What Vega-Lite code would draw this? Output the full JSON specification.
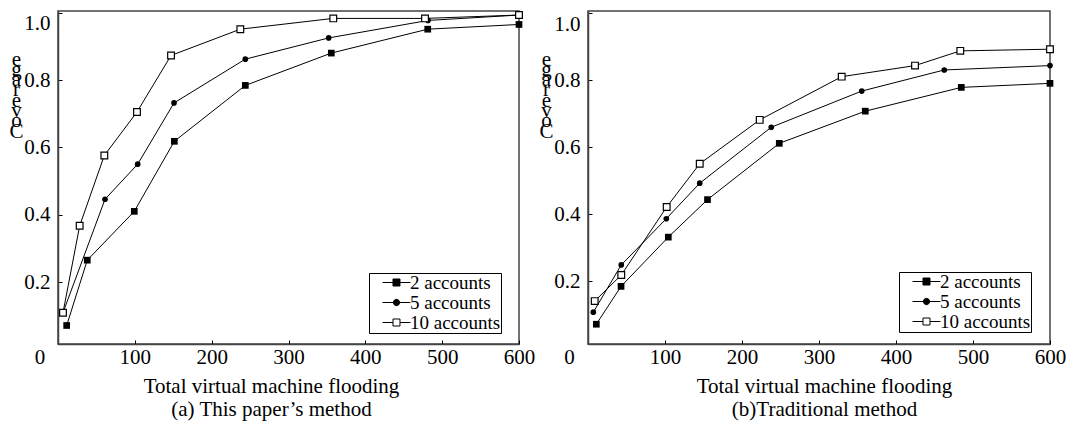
{
  "$schema": "https://vega.github.io/schema/vega-lite/v6.json",
  "padding": {"left": 8, "top": 8, "right": 0, "bottom": 0},
  "background": "white",
  "bounds": "flush",
  "spacing": 69,
  "resolve": {
    "scale": {"shape": "independent", "fill": "independent", "stroke": "independent"},
    "legend": {"shape": "independent", "fill": "independent", "stroke": "independent"}
  },
  "config": {
    "font": "Liberation Serif",
    "view": {"stroke": "#444", "strokeWidth": 1.5},
    "axis": {
      "grid": false,
      "labelFont": "Liberation Serif",
      "labelFontSize": 21,
      "labelColor": "black",
      "titleFont": "Liberation Serif",
      "titleFontSize": 21,
      "titleFontWeight": "normal",
      "titleColor": "black",
      "domainColor": "#444",
      "domainWidth": 1.5,
      "tickColor": "black",
      "tickSize": -4,
      "tickWidth": 1
    },
    "legend": {
      "orient": "none", "title": null,
      "padding": 0, "rowPadding": 0, "symbolSize": 196, "labelOffset": 22,
      "labelFont": "Liberation Serif", "labelFontSize": 19, "labelColor": "black",
      "strokeColor": "black", "fillColor": "white", "symbolStrokeColor": "black", "symbolStrokeWidth": 1, "symbolOpacity": 1
    }
  },
  "datasets": {
    "a": [
      {"series": "2 accounts", "x": 11.3, "y": 0.071},
      {"series": "2 accounts", "x": 38.1, "y": 0.265},
      {"series": "2 accounts", "x": 99.3, "y": 0.41},
      {"series": "2 accounts", "x": 151.4, "y": 0.618},
      {"series": "2 accounts", "x": 243.8, "y": 0.784},
      {"series": "2 accounts", "x": 355.7, "y": 0.88},
      {"series": "2 accounts", "x": 481.2, "y": 0.951},
      {"series": "2 accounts", "x": 600, "y": 0.965},
      {"series": "5 accounts", "x": 6.5, "y": 0.109},
      {"series": "5 accounts", "x": 61.2, "y": 0.446},
      {"series": "5 accounts", "x": 103.7, "y": 0.55},
      {"series": "5 accounts", "x": 151, "y": 0.732},
      {"series": "5 accounts", "x": 243.8, "y": 0.862},
      {"series": "5 accounts", "x": 352.3, "y": 0.925},
      {"series": "5 accounts", "x": 481.6, "y": 0.977},
      {"series": "5 accounts", "x": 600, "y": 0.993},
      {"series": "10 accounts", "x": 6.5, "y": 0.109},
      {"series": "10 accounts", "x": 28.2, "y": 0.367},
      {"series": "10 accounts", "x": 60.3, "y": 0.576},
      {"series": "10 accounts", "x": 102.8, "y": 0.705},
      {"series": "10 accounts", "x": 147.1, "y": 0.873},
      {"series": "10 accounts", "x": 237.3, "y": 0.951},
      {"series": "10 accounts", "x": 358.3, "y": 0.983},
      {"series": "10 accounts", "x": 477.7, "y": 0.983},
      {"series": "10 accounts", "x": 600, "y": 0.993}
    ],
    "b": [
      {"series": "2 accounts", "x": 10.8, "y": 0.071},
      {"series": "2 accounts", "x": 42.9, "y": 0.184},
      {"series": "2 accounts", "x": 104.3, "y": 0.331},
      {"series": "2 accounts", "x": 155.2, "y": 0.443},
      {"series": "2 accounts", "x": 248.4, "y": 0.611},
      {"series": "2 accounts", "x": 360.1, "y": 0.707},
      {"series": "2 accounts", "x": 484.8, "y": 0.778},
      {"series": "2 accounts", "x": 600, "y": 0.79},
      {"series": "5 accounts", "x": 6.9, "y": 0.107},
      {"series": "5 accounts", "x": 43.2, "y": 0.248},
      {"series": "5 accounts", "x": 101.7, "y": 0.386},
      {"series": "5 accounts", "x": 145.1, "y": 0.492},
      {"series": "5 accounts", "x": 238, "y": 0.659},
      {"series": "5 accounts", "x": 355.5, "y": 0.767},
      {"series": "5 accounts", "x": 462.7, "y": 0.83},
      {"series": "5 accounts", "x": 600, "y": 0.843},
      {"series": "10 accounts", "x": 8.7, "y": 0.14},
      {"series": "10 accounts", "x": 43.2, "y": 0.218},
      {"series": "10 accounts", "x": 102.2, "y": 0.421},
      {"series": "10 accounts", "x": 145.1, "y": 0.55},
      {"series": "10 accounts", "x": 223, "y": 0.681},
      {"series": "10 accounts", "x": 329.5, "y": 0.81},
      {"series": "10 accounts", "x": 424.7, "y": 0.843},
      {"series": "10 accounts", "x": 483.5, "y": 0.887},
      {"series": "10 accounts", "x": 600, "y": 0.892}
    ]
  },
  "hconcat": [
    {
      "width": 461,
      "height": 333,
      "data": {"name": "a"},
      "encoding": {
        "x": {
          "field": "x", "type": "quantitative",
          "scale": {"domain": [0, 600], "nice": false, "zero": false},
          "axis": {
            "values": [0, 100, 200, 300, 400, 500, 600],
            "labelFlush": false,
            "labelPadding": 6,
            "labelOffset": {"condition": {"test": "datum.value === 0", "value": -18.5}, "value": 0},
            "title": ["Total virtual machine flooding", "(a) This paper’s method"],
            "titleX": 213, "titleY": 48.7, "titleAlign": "center", "titleBaseline": "alphabetic",
            "titleLineHeight": 22.6
          }
        },
        "y": {
          "field": "y", "type": "quantitative",
          "scale": {"domain": [0.016, 1.005], "nice": false, "zero": false},
          "axis": {
            "values": [0.2, 0.4, 0.6, 0.8, 1.0],
            "format": ".1f",
            "labelFlush": 3,
            "labelPadding": 12,
            "title": ["e", "g", "a", "r", "e", "v", "o", "C"],
            "titleAngle": 0, "titleX": -42, "titleY": 54, "titleAlign": "center", "titleBaseline": "alphabetic",
            "titleLineHeight": 10.3
          }
        }
      },
      "layer": [
        {
          "mark": {"type": "line", "color": "black", "strokeWidth": 1},
          "encoding": {"detail": {"field": "series"}}
        },
        {
          "transform": [{"filter": "datum.series === '2 accounts'"}],
          "mark": {"type": "point", "shape": "square", "filled": true, "color": "black", "opacity": 1, "size": 45}
        },
        {
          "transform": [{"filter": "datum.series === '5 accounts'"}],
          "mark": {"type": "point", "shape": "circle", "filled": true, "color": "black", "opacity": 1, "size": 32}
        },
        {
          "transform": [{"filter": "datum.series === '10 accounts'"}],
          "mark": {"type": "point", "shape": "square", "fill": "white", "stroke": "black", "strokeWidth": 1.2, "opacity": 1, "size": 45}
        },
        {
          "mark": {"type": "point", "opacity": 0},
          "encoding": {
            "shape": {
              "field": "series", "type": "nominal",
              "scale": {"domain": ["2 accounts", "5 accounts", "10 accounts"], "range": ["M0.57,0H4.57M2.07,-0.5H3.07V0.5H2.07Z", "M0.57,0H4.57M2.12,0A0.45,0.45 0 1,1 3.02,0A0.45,0.45 0 1,1 2.12,0Z", "M0.57,0H2.07M3.07,0H4.57M2.07,-0.5H3.07V0.5H2.07Z"]},
              "legend": {"legendX": 311, "legendY": 262, "symbolOpacity": 1}
            },
            "fill": {
              "field": "series", "type": "nominal",
              "scale": {"domain": ["2 accounts", "5 accounts", "10 accounts"], "range": ["black", "black", "white"]},
              "legend": {"legendX": 311, "legendY": 262, "symbolOpacity": 1}
            },
            "stroke": {
              "field": "series", "type": "nominal",
              "scale": {"domain": ["2 accounts", "5 accounts", "10 accounts"], "range": ["black", "black", "black"]},
              "legend": {"legendX": 311, "legendY": 262, "symbolOpacity": 1}
            }
          }
        }
      ]
    },
    {
      "width": 462,
      "height": 333,
      "data": {"name": "b"},
      "encoding": {
        "x": {
          "field": "x", "type": "quantitative",
          "scale": {"domain": [0, 600], "nice": false, "zero": false},
          "axis": {
            "values": [0, 100, 200, 300, 400, 500, 600],
            "labelFlush": false,
            "labelPadding": 6,
            "labelOffset": {"condition": {"test": "datum.value === 0", "value": -19}, "value": 0},
            "title": ["Total virtual machine flooding", "(b)Traditional method"],
            "titleX": 236, "titleY": 48.7, "titleAlign": "center", "titleBaseline": "alphabetic",
            "titleLineHeight": 22.6
          }
        },
        "y": {
          "field": "y", "type": "quantitative",
          "scale": {"domain": [0.012, 1.006], "nice": false, "zero": false},
          "axis": {
            "values": [0.2, 0.4, 0.6, 0.8, 1.0],
            "format": ".1f",
            "labelFlush": 3,
            "labelPadding": 12,
            "title": ["e", "g", "a", "r", "e", "v", "o", "C"],
            "titleAngle": 0, "titleX": -42, "titleY": 54, "titleAlign": "center", "titleBaseline": "alphabetic",
            "titleLineHeight": 10.3
          }
        }
      },
      "layer": [
        {
          "mark": {"type": "line", "color": "black", "strokeWidth": 1},
          "encoding": {"detail": {"field": "series"}}
        },
        {
          "transform": [{"filter": "datum.series === '2 accounts'"}],
          "mark": {"type": "point", "shape": "square", "filled": true, "color": "black", "opacity": 1, "size": 45}
        },
        {
          "transform": [{"filter": "datum.series === '5 accounts'"}],
          "mark": {"type": "point", "shape": "circle", "filled": true, "color": "black", "opacity": 1, "size": 32}
        },
        {
          "transform": [{"filter": "datum.series === '10 accounts'"}],
          "mark": {"type": "point", "shape": "square", "fill": "white", "stroke": "black", "strokeWidth": 1.2, "opacity": 1, "size": 45}
        },
        {
          "mark": {"type": "point", "opacity": 0},
          "encoding": {
            "shape": {
              "field": "series", "type": "nominal",
              "scale": {"domain": ["2 accounts", "5 accounts", "10 accounts"], "range": ["M0.57,0H4.57M2.07,-0.5H3.07V0.5H2.07Z", "M0.57,0H4.57M2.12,0A0.45,0.45 0 1,1 3.02,0A0.45,0.45 0 1,1 2.12,0Z", "M0.57,0H2.07M3.07,0H4.57M2.07,-0.5H3.07V0.5H2.07Z"]},
              "legend": {"legendX": 311, "legendY": 261, "symbolOpacity": 1}
            },
            "fill": {
              "field": "series", "type": "nominal",
              "scale": {"domain": ["2 accounts", "5 accounts", "10 accounts"], "range": ["black", "black", "white"]},
              "legend": {"legendX": 311, "legendY": 261, "symbolOpacity": 1}
            },
            "stroke": {
              "field": "series", "type": "nominal",
              "scale": {"domain": ["2 accounts", "5 accounts", "10 accounts"], "range": ["black", "black", "black"]},
              "legend": {"legendX": 311, "legendY": 261, "symbolOpacity": 1}
            }
          }
        }
      ]
    }
  ]
}
